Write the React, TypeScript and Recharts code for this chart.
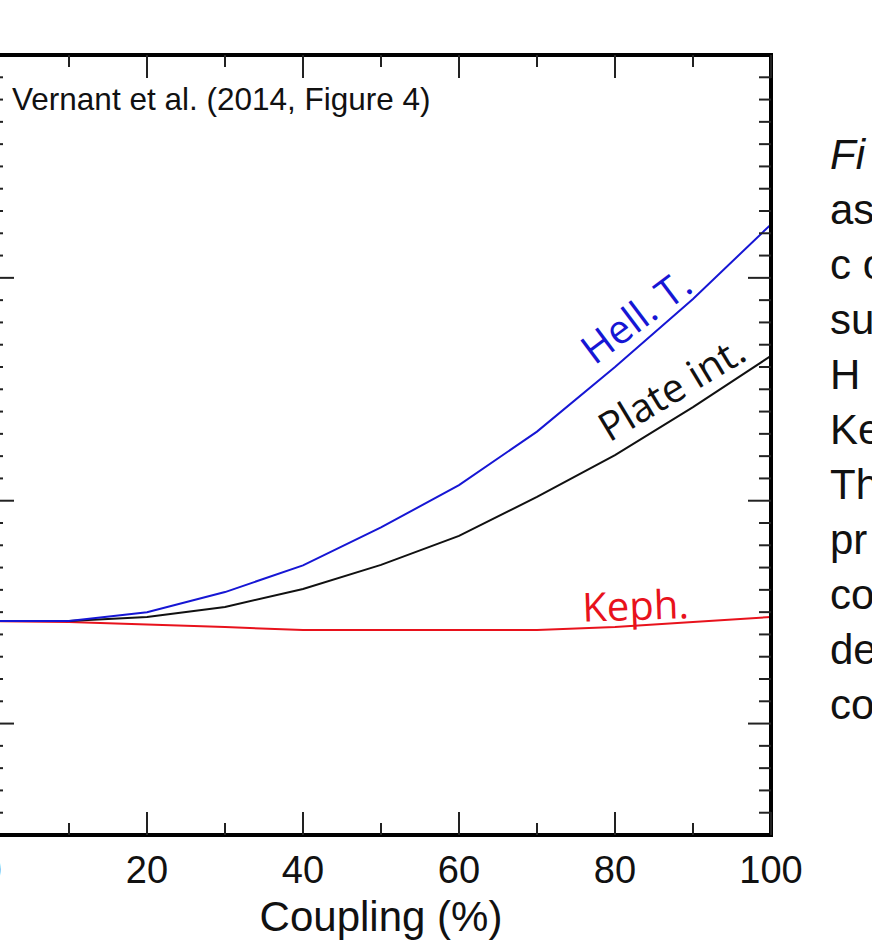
import React from 'react';
import { LineChart, Line, XAxis, YAxis, ReferenceDot } from 'recharts';

// coupling (%) on the x axis
const coupling = [0, 10, 20, 30, 40, 50, 60, 70, 80, 90, 100];
// values (y labels are cut off, scale is relative)
const hellTrench = [14.6, 14.6, 15.0, 15.9, 17.1, 18.8, 20.7, 23.1, 26.0, 29.05, 32.4];
const plateInt = [14.6, 14.6, 14.78, 15.23, 16.04, 17.12, 18.42, 20.17, 22.05, 24.2, 26.5];
const keph = [14.6, 14.56, 14.45, 14.33, 14.2, 14.2, 14.2, 14.2, 14.33, 14.56, 14.78];

const xLabels = [0, 20, 40, 60, 80, 100];
const xTicks = [0, 10, 20, 30, 40, 50, 60, 70, 80, 90, 100];
const xMajor = [0, 20, 40, 60, 80, 100];
const yTicks = [6, 7, 8, 9, 10, 11, 12, 13, 14, 15, 16, 17, 18, 19, 20, 21, 22, 23, 24, 25, 26, 27, 28, 29, 30, 31, 32, 33, 34, 35, 36, 37, 38, 39];
const yMajor = [10, 20, 30, 40];

const captionLines = ['Fi', 'as', 'c o', 'su', 'H', 'Ke', 'Th', 'pr', 'co', 'de', 'co'];

const data = coupling.map((c, i) => ({
  coupling: c,
  hell: hellTrench[i],
  plate: plateInt[i],
  keph: keph[i],
}));

const SANS = 'Liberation Sans, Arial, Helvetica, sans-serif';
const frame = { stroke: '#000', strokeWidth: 4, strokeLinecap: 'square' as const };
const MAJOR = 23;
const MINOR = 12;

// inward tick marks: dx/dy give the direction into the plot
const inwardTick = (majors: number[], dx: number, dy: number) => (p: any) => {
  const len = majors.includes(p.payload.value) ? MAJOR : MINOR;
  return <line x1={p.x} y1={p.y} x2={p.x + dx * len} y2={p.y + dy * len} stroke="#222" strokeWidth={2} />;
};

const textShape = (text: string, color: string, angle: number, size: number, family: string, anchor = 'middle') =>
  (p: any) => (
    <text
      x={p.cx}
      y={p.cy}
      transform={`rotate(${angle} ${p.cx} ${p.cy})`}
      textAnchor={anchor}
      fill={color}
      fontSize={size}
      fontFamily={family}
    >
      {text}
    </text>
  );

export default function App() {
  return (
    <div style={{ position: 'absolute', left: 0, top: 0, width: 872, height: 943, overflow: 'hidden', background: '#fff' }}>
      <div style={{ position: 'absolute', left: -9, top: 0 }}>
        <LineChart width={881} height={943} data={data} margin={{ top: 55, right: 101, bottom: 0, left: 0 }}>
          {/* tick labels + title */}
          <XAxis
            xAxisId="lab"
            dataKey="coupling"
            type="number"
            domain={[0, 100]}
            allowDataOverflow
            ticks={xLabels}
            interval={0}
            height={108}
            axisLine={false}
            tickLine={false}
            tickMargin={15}
            tick={{ fill: '#111', fontSize: 38, fontFamily: SANS }}
            label={{ value: 'Coupling (%)', position: 'insideBottom', offset: 12, fill: '#111', fontSize: 42, fontFamily: SANS }}
          />
          {/* GMT style frame with inward ticks */}
          <XAxis xAxisId="bot" dataKey="coupling" scale="linear" type="number" domain={[0, 100]} allowDataOverflow mirror height={1} ticks={xTicks} interval={0} tickSize={0} tickMargin={0} tickLine={false} axisLine={frame} tick={inwardTick(xMajor, 0, -1)} />
          <XAxis xAxisId="top" dataKey="coupling" scale="linear" orientation="top" type="number" domain={[0, 100]} allowDataOverflow mirror height={1} ticks={xTicks} interval={0} tickSize={0} tickMargin={0} tickLine={false} axisLine={frame} tick={inwardTick(xMajor, 0, 1)} />
          <YAxis yAxisId="left" type="number" domain={[5, 40]} allowDataOverflow mirror width={1} ticks={yTicks} interval={0} tickSize={0} tickMargin={0} tickLine={false} axisLine={frame} tick={inwardTick(yMajor, 1, 0)} />
          <YAxis yAxisId="right" orientation="right" type="number" domain={[5, 40]} allowDataOverflow mirror width={1} ticks={yTicks} interval={0} tickSize={0} tickMargin={0} tickLine={false} axisLine={frame} tick={inwardTick(yMajor, -1, 0)} />

          {/* every x axis shares the 0-100 domain, so each line can sit on a different one */}
          <Line xAxisId="bot" yAxisId="left" type="linear" dataKey="keph" stroke="#e8121c" strokeWidth={2} dot={false} isAnimationActive={false} />
          <Line xAxisId="top" yAxisId="left" type="linear" dataKey="plate" stroke="#111" strokeWidth={2} dot={false} isAnimationActive={false} />
          <Line xAxisId="lab" yAxisId="right" type="linear" dataKey="hell" stroke="#1616d4" strokeWidth={2} dot={false} isAnimationActive={false} />

          <ReferenceDot xAxisId="lab" yAxisId="left" x={83.8} y={27.75} r={1} shape={textShape('Hell. T.', '#1616d4', -37, 40, 'Open Sans')} />
          <ReferenceDot xAxisId="lab" yAxisId="left" x={88.2} y={24.48} r={1} shape={textShape('Plate int.', '#111', -31, 40, 'Open Sans')} />
          <ReferenceDot xAxisId="lab" yAxisId="left" x={82.7} y={14.65} r={1} shape={textShape('Keph.', '#e8121c', -2, 40, 'Open Sans')} />
          <ReferenceDot xAxisId="lab" yAxisId="left" x={2.7} y={37.55} r={1} shape={textShape('Vernant et al. (2014, Figure 4)', '#111', 0, 31.5, SANS, 'start')} />
        </LineChart>
      </div>
      <div
        style={{
          position: 'absolute',
          left: 830,
          top: 127,
          fontSize: 42,
          lineHeight: '55px',
          color: '#111',
          fontFamily: SANS,
          whiteSpace: 'nowrap',
        }}
      >
        {captionLines.map((l, i) => (
          <div key={i} style={{ fontStyle: i === 0 ? 'italic' : 'normal' }}>
            {l}
          </div>
        ))}
      </div>
    </div>
  );
}
